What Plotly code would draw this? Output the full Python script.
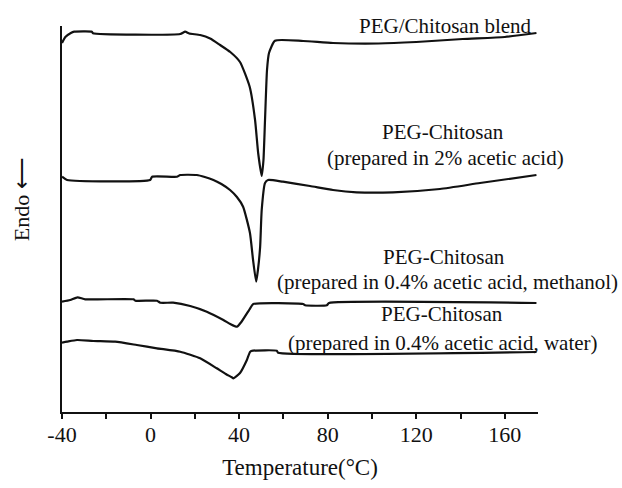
import plotly.graph_objects as go

# ---- data (temperature in °C, heat-flow signal in arbitrary units) ----
T_blend = [-40, -38.5, -36, -34.5, -26.5, -26, 13.4, 15.6, 17.5, 22.4, 26.9, 31.4, 36, 40.4,
           44.8, 47.2, 48.6, 50.2, 51.0, 51.7, 52.6, 53.5, 56.2, 68.9, 82.4, 103, 120, 141, 160, 174.3]
Y_blend = [369, 375, 379, 380.3, 380.3, 378.7, 378, 380.3, 378.5, 377, 373.5, 367, 360, 350,
           325, 292, 259, 236, 252, 292, 342, 359, 371.3, 371, 369, 368.5, 370, 373, 375, 379]

T_2pct = [-40, -37.7, -0.2, 0.7, 11.9, 13.4, 20.9, 24.5, 28.4, 32, 35.9, 39, 41.8, 44.9, 46.3,
          47.7, 48.5, 49.5, 50.2, 51.7, 53.1, 59.8, 72, 82.4, 93.1, 109.5, 130.7, 148.8, 174.3]
Y_2pct = [235.3, 232, 232, 235.3, 235.3, 237, 237, 235, 232, 228, 222, 215, 205.3, 179, 152,
          130.3, 142, 165.3, 202, 229, 232, 230.3, 226, 222, 219.7, 219.7, 223, 229, 237]

T_meoh = [-40, -36.3, -33, -29.5, -7.7, -6.9, 2.9, 4.4, 10.2, 17.9, 25.4, 32.9, 36, 39, 41,
          45, 46.4, 68.9, 69.8, 79.6, 80.6, 174.3]
Y_meoh = [110.3, 112, 114.7, 112.7, 112.7, 111.3, 111.3, 109.3, 109.3, 106, 100.3, 92, 88, 85.3, 90,
          103.7, 108, 108, 106.7, 106.7, 109, 109]

T_water = [-40, -37.7, -33.2, -25.9, -16, -6.2, 2.9, 13.4, 22.4, 29.9, 34, 36.7, 37.4, 40.4,
           43.5, 45, 46.3, 57, 57.6, 174.3]
Y_water = [69.3, 70.3, 72, 71, 70.3, 67, 63.7, 60.3, 53.7, 43.7, 38, 34.7, 33.7, 39,
           52, 60.3, 61.3, 61.3, 59.3, 60]

label_texts = ["PEG/Chitosan blend",
               "PEG-Chitosan", "(prepared in 2% acetic acid)",
               "PEG-Chitosan", "(prepared in 0.4% acetic acid, methanol)",
               "PEG-Chitosan", "(prepared in 0.4% acetic acid, water)"]
label_x = [133.1, 132.1, 133.1, 132.6, 134.0, 131.7, 132.1]
label_y = [386, 280, 254, 155, 130, 98, 69]

x_tickvals = [-40, 0, 40, 80, 120, 160]
x_ticktext = ["-40", "0", "40", "80", "120", "160"]

FONT = "Liberation Serif, Times New Roman, serif"
INK = "#111111"

fig = go.Figure()
for xs, ys in [(T_blend, Y_blend), (T_2pct, Y_2pct), (T_meoh, Y_meoh), (T_water, Y_water)]:
    fig.add_trace(go.Scatter(x=xs, y=ys, mode="lines",
                             line=dict(color=INK, width=2.2, shape="spline", smoothing=0.5),
                             showlegend=False, hoverinfo="skip"))

for t, x, y in zip(label_texts, label_x, label_y):
    fig.add_annotation(x=x, y=y, xref="x", yref="y", text=t, showarrow=False,
                       xanchor="center", yanchor="middle",
                       font=dict(family=FONT, size=21, color=INK))

fig.add_annotation(x=-0.085, y=0.55, xref="paper", yref="paper", text="Endo ⟵",
                   textangle=-90, showarrow=False, xanchor="center", yanchor="middle",
                   font=dict(family=FONT, size=22, color=INK))

fig.update_layout(
    width=622, height=488,
    margin=dict(l=62, r=84, t=26, b=76),
    paper_bgcolor="white", plot_bgcolor="white",
    font=dict(family=FONT, color=INK),
    xaxis=dict(range=[-40, 175], tickvals=x_tickvals, ticktext=x_ticktext,
               showline=True, linecolor=INK, linewidth=2, mirror=False,
               ticks="outside", ticklen=5, tickwidth=2, tickcolor=INK,
               minor=dict(tickvals=[-20, 20, 60, 100, 140], ticks="outside",
                          ticklen=5, tickwidth=2, tickcolor=INK),
               showgrid=False, zeroline=False, ticklabelstandoff=-3,
               tickfont=dict(family=FONT, size=22, color=INK),
               title=dict(text="Temperature(°C)", font=dict(family=FONT, size=23, color=INK),
                          standoff=12)),
    yaxis=dict(range=[0, 386], showline=True, linecolor=INK, linewidth=2,
               showticklabels=False, ticks="", showgrid=False, zeroline=False),
)

fig.write_html("out.html")
